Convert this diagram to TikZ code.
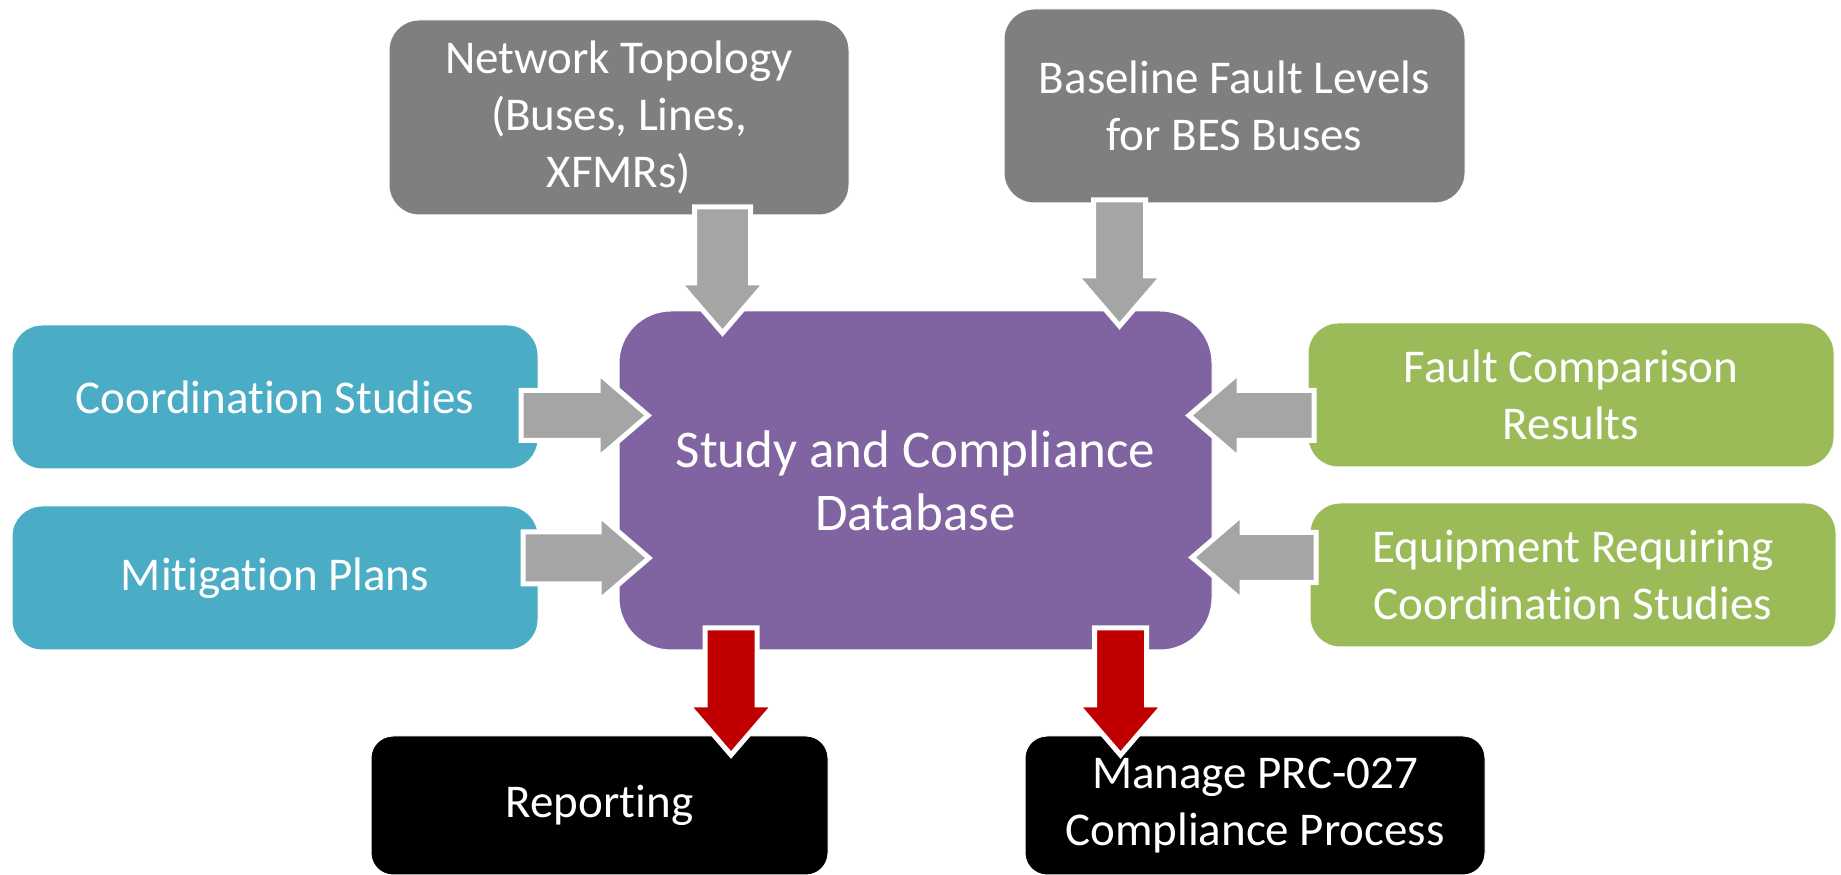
\documentclass[tikz,border=0pt]{standalone}
\usepackage{fontspec}
\setmainfont{Carlito}[Ligatures=NoCommon]
\usetikzlibrary{calc}

\definecolor{boxgray}{HTML}{7F7F7F}
\definecolor{arrgray}{HTML}{A5A5A5}
\definecolor{dbpurple}{HTML}{8064A2}
\definecolor{inblue}{HTML}{4BACC6}
\definecolor{ingreen}{HTML}{9BBB59}
\definecolor{outred}{HTML}{C00000}

% Block arrow from a tail coordinate to a tip coordinate
% #1 style, #2 tail, #3 tip, #4 shaft half-width (pt)
\newcommand\blockarrow[4]{%
  \coordinate (hc) at ($(#3)!50pt!(#2)$);
  \filldraw[#1] ($(#2)!#4pt!90:(#3)$) -- ($(hc)!#4pt!90:(#3)$)
    -- ($(hc)!43pt!90:(#3)$) -- (#3) -- ($(hc)!43pt!-90:(#3)$)
    -- ($(hc)!#4pt!-90:(#3)$) -- ($(#2)!#4pt!-90:(#3)$) -- cycle;
}

\tikzset{
  card/.style={rounded corners=30pt, inner sep=0pt, outer sep=0pt,
    text=white, align=center, draw=white, line width=1pt,
    font=\fontsize{47}{57}\selectfont},
  graycard/.style={card, fill=boxgray},
  bluecard/.style={card, fill=inblue, minimum width=526pt, minimum height=144pt},
  greencard/.style={card, fill=ingreen, minimum width=526pt, minimum height=144pt},
  blackcard/.style={card, fill=black, rounded corners=22pt, minimum height=139pt},
  dbcard/.style={card, fill=dbpurple, rounded corners=52pt,
    font=\fontsize{53}{63}\selectfont},
  inarrow/.style={fill=arrgray, draw=white, line width=5pt, line join=miter},
  outarrow/.style={fill=outred, draw=white, line width=5pt, line join=miter},
}

\begin{document}
\begin{tikzpicture}[x=1pt, y=1pt]
\useasboundingbox (0,0) rectangle (1841,875);
\clip (0,0) rectangle (1841,875);

% boxes
\node[graycard, minimum width=460pt, minimum height=195pt] (nt) at (619,757.5)
  {Network Topology\\(Buses, Lines,\\XFMRs)};
\node[graycard, minimum width=461pt, minimum height=194pt] (bfl) at (1234.5,769)
  {Baseline Fault Levels\\for BES Buses};
\node[bluecard] (cs) at (275,478) {Coordination Studies};
\node[bluecard] (mp) at (275,297) {Mitigation Plans};
\node[dbcard, minimum width=593pt, minimum height=339pt] (db) at (915.5,394.5)
  {Study and Compliance\\Database};
\node[greencard] (fcr) at (1571,480) {Fault Comparison\\Results};
\node[greencard] (ercs) at (1573,300) {Equipment Requiring\\Coordination Studies};
\node[blackcard, minimum width=457pt] (rep) at (599.5,69.5) {Reporting};
\node[blackcard, minimum width=460pt] (mng) at (1255,69.5)
  {Manage PRC-027\\Compliance Process};

% arrow end points
\coordinate (ntT) at (722.5,668);   \coordinate (ntH) at (722.5,542);
\coordinate (bflT) at (1119.5,675); \coordinate (bflH) at (1119.5,549);
\coordinate (csT) at (521,459.5);   \coordinate (csH) at (648,459.5);
\coordinate (mpT) at (523,317);     \coordinate (mpH) at (649,317);
\coordinate (fcrT) at (1314,459.5); \coordinate (fcrH) at (1189,459.5);
\coordinate (ercsT) at (1316,317.5);\coordinate (ercsH) at (1192,317.5);
\coordinate (repT) at (731,247);    \coordinate (repH) at (731,120);
\coordinate (mngT) at (1120.5,247); \coordinate (mngH) at (1120.5,120);

% inputs to the database
\blockarrow{inarrow}{ntT}{ntH}{28}
\blockarrow{inarrow}{bflT}{bflH}{26}
\blockarrow{inarrow}{csT}{csH}{25}
\blockarrow{inarrow}{mpT}{mpH}{26}
\blockarrow{inarrow}{fcrT}{fcrH}{25}
\blockarrow{inarrow}{ercsT}{ercsH}{25}

% outputs of the database
\blockarrow{outarrow}{repT}{repH}{26}
\blockarrow{outarrow}{mngT}{mngH}{26}
\end{tikzpicture}
\end{document}
